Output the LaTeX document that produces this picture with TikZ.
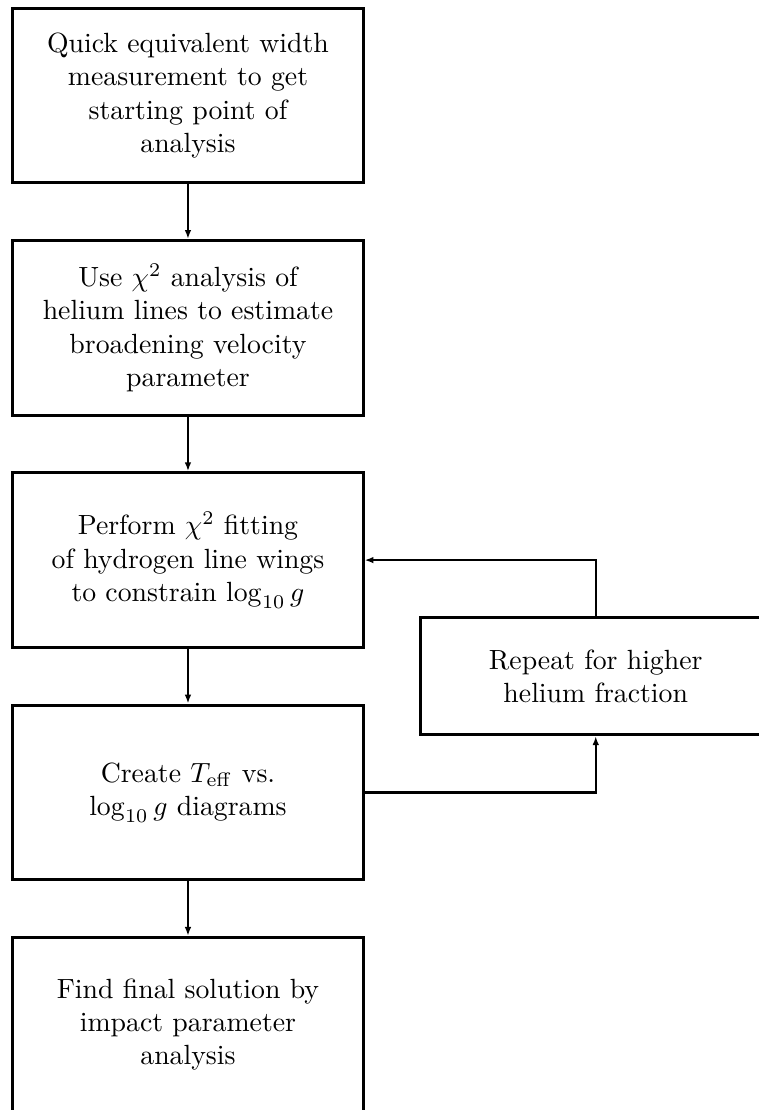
\documentclass[tikz,border=0pt]{standalone}
\usepackage{amsmath}
\usepackage{amssymb}
\usepackage{tikz}
\usetikzlibrary{positioning,calc,arrows.meta}

\begin{document}
\begin{tikzpicture}[
                node distance=0.69cm,
                stage/.style={rectangle, draw, line width=1.1pt, align=center, minimum width=4.43cm, minimum height=2.21cm, inner sep=0pt},
                loopbox/.style={stage, minimum height=1.48cm},
                flow/.style={line width=0.8pt, -{Latex[length=3.2pt, width=2.4pt]}}
            ]
                \useasboundingbox (-2.378,1.208) rectangle (7.223,-12.834);
                \node[stage] (quick) at (0,0) {Quick equivalent width\\ measurement to get\\ starting point of\\ analysis};
                \node[stage, below=of quick] (chihe) {Use $\chi^2$ analysis of\\ helium lines to estimate\\ broadening velocity\\ parameter};
                \node[stage, below=of chihe] (chih) {Perform $\chi^2$ fitting\\ of hydrogen line wings\\ to constrain $\log_{10} g$};
                \node[stage, below=of chih] (diag) {Create $T_{\rm eff}$ vs.\\ $\log_{10} g$ diagrams};
                \node[stage, below=of diag] (final) {Find final solution by\\ impact parameter\\ analysis};
                \coordinate (mid) at ($(chih.east)!0.5!(diag.east)$);
                \node[loopbox, right=of mid] (repeat) {Repeat for higher\\ helium fraction};
                \draw[flow] (quick) -- (chihe);
                \draw[flow] (chihe) -- (chih);
                \draw[flow] (chih) -- (diag);
                \draw[flow] (diag) -- (final);
                \draw[flow] (diag.east) -| (repeat.south);
                \draw[flow] (repeat.north) |- (chih.east);
            \end{tikzpicture}
\end{document}
